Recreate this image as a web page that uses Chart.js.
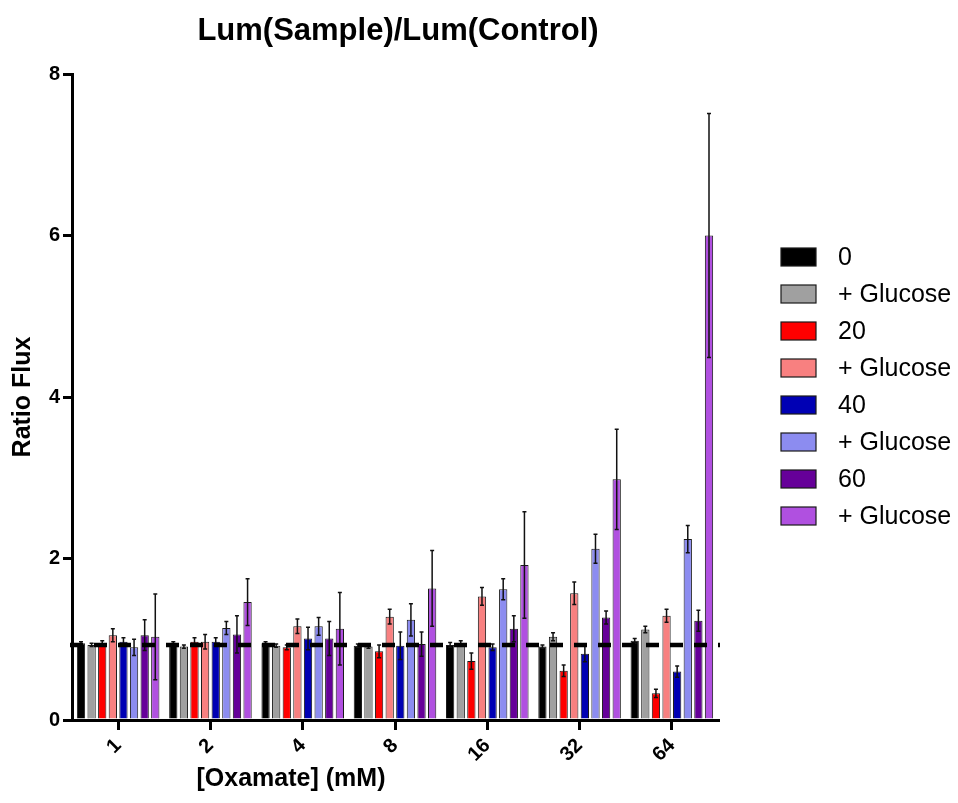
<!DOCTYPE html>
<html>
<head>
<meta charset="utf-8">
<script src="https://cdn.jsdelivr.net/npm/chart.js@4.4.0/dist/chart.umd.min.js"></script>
<style>
  html, body { margin: 0; padding: 0; background: #fff; }
  #wrap { width: 958px; height: 803px; }
</style>
</head>
<body>
<div id="wrap"><canvas id="chart" width="958" height="803"></canvas></div>
<script>
// oxamate doses (mM)
const doses = ["1", "2", "4", "8", "16", "32", "64"];
const seriesLabels = ["0", "+ Glucose", "20", "+ Glucose", "40", "+ Glucose", "60", "+ Glucose"];
const seriesColors = ["#000000", "#a0a0a0", "#ff0000", "#f88080", "#0000b4", "#8c8cf0", "#660099", "#b050e0"];

// ratio flux per series
const s0 = [0.95, 0.95, 0.95, 0.92, 0.93, 0.91, 0.98];
const s0g = [0.93, 0.91, 0.92, 0.91, 0.95, 1.03, 1.12];
const s20 = [0.95, 0.97, 0.90, 0.85, 0.73, 0.61, 0.33];
const s20g = [1.05, 0.97, 1.16, 1.28, 1.53, 1.57, 1.29];
const s40 = [0.97, 0.97, 1.01, 0.92, 0.90, 0.82, 0.60];
const s40g = [0.90, 1.14, 1.16, 1.24, 1.62, 2.12, 2.24];
const s60 = [1.05, 1.06, 1.01, 0.94, 1.13, 1.27, 1.23];
const s60g = [1.03, 1.46, 1.13, 1.63, 1.92, 2.98, 6.00];

// error (+/-)
const e0 = [0.02, 0.02, 0.02, 0.02, 0.03, 0.02, 0.03];
const e0g = [0.02, 0.02, 0.02, 0.02, 0.03, 0.05, 0.04];
const e20 = [0.03, 0.05, 0.03, 0.08, 0.10, 0.07, 0.05];
const e20g = [0.08, 0.09, 0.09, 0.09, 0.11, 0.14, 0.08];
const e40 = [0.05, 0.05, 0.14, 0.17, 0.04, 0.10, 0.07];
const e40g = [0.10, 0.08, 0.11, 0.20, 0.13, 0.18, 0.17];
const e60 = [0.19, 0.23, 0.21, 0.15, 0.16, 0.08, 0.13];
const e60g = [0.53, 0.29, 0.45, 0.47, 0.66, 0.62, 1.51];

const baseline = 0.93;
const yTicks = [0, 2, 4, 6, 8];

const values = [s0, s0g, s20, s20g, s40, s40g, s60, s60g];
const errors = [e0, e0g, e20, e20g, e40, e40g, e60, e60g];

const FONT = "'Liberation Sans', Arial, sans-serif";
Chart.defaults.font.family = FONT;
Chart.defaults.color = "#000";

const datasets = values.map((v, i) => ({
  label: seriesLabels[i],
  data: v,
  errors: errors[i],
  backgroundColor: seriesColors[i],
  borderColor: "#1a1a1a",
  borderWidth: 1,
  categoryPercentage: 0.92,
  barPercentage: 0.78,
}));

// === error bars + dashed control line + texts ===
const extras = {
  id: "extras",
  afterDatasetsDraw(chart) {
    const { ctx, scales: { y } } = chart;
    ctx.save();
    ctx.strokeStyle = "#111";
    ctx.lineWidth = 1.5;
    chart.data.datasets.forEach((ds, i) => {
      chart.getDatasetMeta(i).data.forEach((bar, j) => {
        const v = ds.data[j], e = ds.errors[j];
        const top = y.getPixelForValue(v + e);
        const bot = y.getPixelForValue(v - e);
        ctx.beginPath();
        ctx.moveTo(bar.x, top); ctx.lineTo(bar.x, bot);
        ctx.moveTo(bar.x - 2, top); ctx.lineTo(bar.x + 2, top);
        ctx.moveTo(bar.x - 2, bot); ctx.lineTo(bar.x + 2, bot);
        ctx.stroke();
      });
    });

    // dashed control line
    const yb = y.getPixelForValue(baseline);
    ctx.strokeStyle = "#000";
    ctx.lineWidth = 4.5;
    ctx.setLineDash([13, 11]);
    ctx.beginPath();
    ctx.moveTo(70, yb);
    ctx.lineTo(chart.chartArea.right + 2, yb);
    ctx.stroke();
    ctx.restore();
  },
  afterDraw(chart) {
    const { ctx, chartArea } = chart;
    ctx.save();
    ctx.fillStyle = "#000";
    ctx.textAlign = "center";
    ctx.textBaseline = "middle";
    ctx.font = "bold 31px " + FONT;
    ctx.fillText("Lum(Sample)/Lum(Control)", 398, 31);
    ctx.font = "bold 25px " + FONT;
    ctx.fillText("[Oxamate] (mM)", 291, 779);

    // legend
    ctx.textAlign = "left";
    ctx.font = "25px " + FONT;
    seriesLabels.forEach((lab, i) => {
      const cy = 257 + i * 37;
      ctx.fillStyle = seriesColors[i];
      ctx.fillRect(781, cy - 9, 35, 18);
      ctx.strokeStyle = "#1a1a1a";
      ctx.lineWidth = 1.2;
      ctx.strokeRect(781, cy - 9, 35, 18);
      ctx.fillStyle = "#000";
      ctx.fillText(lab, 838, cy + 1);
    });
    ctx.restore();
  },
};

new Chart(document.getElementById("chart"), {
  type: "bar",
  data: { labels: doses, datasets },
  options: {
    responsive: false,
    animation: false,
    layout: { padding: { top: 74, right: 240, bottom: 0, left: 0 } },
    plugins: { legend: { display: false }, tooltip: { enabled: false } },
    scales: {
      x: {
        grid: { drawOnChartArea: false, offset: false, color: "#000", lineWidth: 3, tickLength: 10 },
        border: { color: "#000", width: 3 },
        ticks: { font: { size: 20, weight: "bold" }, minRotation: 45, maxRotation: 45, padding: 4 },
        afterFit: (s) => { s.height = 83; },
      },
      y: {
        min: 0,
        max: 8,
        afterBuildTicks: (s) => { s.ticks = yTicks.map((v) => ({ value: v })); },
        grid: { drawOnChartArea: false, color: "#000", lineWidth: 3, tickLength: 9 },
        border: { color: "#000", width: 3 },
        ticks: { font: { size: 20, weight: "bold" }, padding: 3 },
        title: { display: true, text: "Ratio Flux", font: { size: 25, weight: "bold" }, padding: { top: 8, bottom: 0 } },
        afterFit: (s) => { s.width = 72; },
      },
    },
  },
  plugins: [extras],
});
</script>
</body>
</html>
